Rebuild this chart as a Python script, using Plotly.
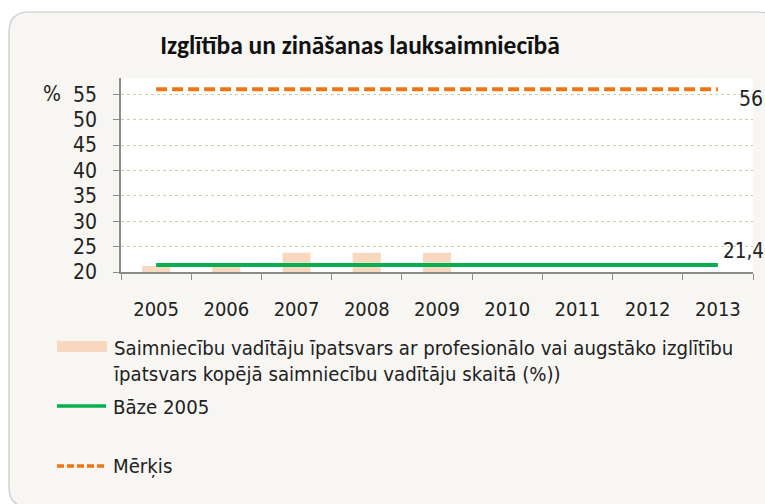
import plotly.graph_objects as go

years = ["2005", "2006", "2007", "2008", "2009", "2010", "2011", "2012", "2013"]
share_values = [21.2, 21.2, 23.8, 23.8, 23.8, None, None, None, None]
base_values = [21.4] * 9
target_values = [56] * 9
y_ticks = [20, 25, 30, 35, 40, 45, 50, 55]

title_text = "Izglītība un zināšanas lauksaimniecībā"
share_name = "Saimniecību vadītāju īpatsvars ar profesionālo vai augstāko izglītību<br>īpatsvars kopējā saimniecību vadītāju skaitā (%))"
base_name = "Bāze 2005"
target_name = "Mērķis"
base_label = "21,4"
target_label = "56"

W, H = 765, 504
ML, MT = 121, 78
MR = W - 753
MB = H - 272
PW, PH = W - ML - MR, H - MT - MB


def px(x):
    """page pixel x -> paper fraction"""
    return (x - ML) / PW


def py(y):
    """page pixel y -> paper fraction"""
    return (H - MB - y) / PH


NARROW = "DejaVu Sans Condensed, Liberation Sans, sans-serif"
BAR_C = "#f8d9bf"
GREEN = "#00b050"
ORANGE = "#f07414"
TXT = "#222"

fig = go.Figure()
fig.add_trace(go.Bar(x=years, y=share_values, base=0, marker_color=BAR_C,
                     marker_line_width=0, width=0.4, name=share_name, showlegend=False))
fig.add_trace(go.Scatter(x=years, y=base_values, mode="lines", name=base_name,
                         line=dict(color=GREEN, width=4), showlegend=False))
fig.add_trace(go.Scatter(x=years, y=target_values, mode="lines", name=target_name,
                         line=dict(color=ORANGE, width=4, dash="11px,5px"), showlegend=False))

# rounded background panel
x0, x1, y0, y1, r = 9, 778, 12, 507, 20
pts = [
    ("M", (x0 + r, y0)), ("L", (x1 - r, y0)), ("Q", (x1, y0), (x1, y0 + r)),
    ("L", (x1, y1 - r)), ("Q", (x1, y1), (x1 - r, y1)), ("L", (x0 + r, y1)),
    ("Q", (x0, y1), (x0, y1 - r)), ("L", (x0, y0 + r)), ("Q", (x0, y0), (x0 + r, y0)),
]
path = ""
for item in pts:
    cmd = item[0]
    coords = " ".join(f"{px(a):.5f},{py(b):.5f}" for a, b in item[1:])
    path += f"{cmd}{coords} "
path += "Z"

shapes = [
    dict(type="path", xref="paper", yref="paper", path=path, fillcolor="#f7f6f2",
         line=dict(color="#c8c8c8", width=1.2), layer="below"),
    dict(type="rect", xref="paper", yref="paper", x0=0, x1=1, y0=0, y1=1,
         fillcolor="white", line=dict(width=0), layer="below"),
    # legend swatches
    dict(type="rect", xref="paper", yref="paper", x0=px(57), x1=px(107), y0=py(341), y1=py(352),
         fillcolor=BAR_C, line=dict(width=0)),
    dict(type="line", xref="paper", yref="paper", x0=px(57), x1=px(106), y0=py(406), y1=py(406),
         line=dict(color=GREEN, width=3.5)),
    dict(type="line", xref="paper", yref="paper", x0=px(57), x1=px(106), y0=py(466), y1=py(466),
         line=dict(color=ORANGE, width=3.5, dash="7px,3px")),
]

last = len(years) - 1
annotations = [
    dict(text="%", xref="paper", yref="paper", x=px(52), y=py(94), xanchor="center",
         yanchor="middle", showarrow=False, font=dict(family=NARROW, size=21, color=TXT)),
    dict(text=target_label, x=last, y=target_values[-1], xref="x", yref="y",
         xanchor="left", yanchor="middle", xshift=19, yshift=-10, showarrow=False,
         font=dict(family=NARROW, size=21, color=TXT)),
    dict(text=base_label, x=last, y=base_values[-1], xref="x", yref="y",
         xanchor="left", yanchor="middle", xshift=3, yshift=14, showarrow=False,
         font=dict(family=NARROW, size=20.5, color=TXT)),
    dict(text=share_name, xref="paper", yref="paper", x=px(111), y=py(361), xanchor="left",
         yanchor="middle", align="left", showarrow=False,
         font=dict(family=NARROW, size=20.2, color=TXT)),
    dict(text=base_name, xref="paper", yref="paper", x=px(111), y=py(407), xanchor="left",
         yanchor="middle", showarrow=False, font=dict(family=NARROW, size=20.2, color=TXT)),
    dict(text=target_name, xref="paper", yref="paper", x=px(111), y=py(466), xanchor="left",
         yanchor="middle", showarrow=False, font=dict(family=NARROW, size=20.2, color=TXT)),
]

fig.update_layout(
    width=W, height=H,
    margin=dict(l=ML, r=MR, t=MT, b=MB),
    paper_bgcolor="white", plot_bgcolor="white",
    title=dict(text=title_text, x=360 / W, xanchor="center", y=1 - 45 / H,
               yanchor="middle",
               font=dict(family="Carlito, Lato, sans-serif", size=25.5, color="#111", weight=600)),
    shapes=shapes, annotations=annotations,
    showlegend=False, bargap=0.6,
)
fig.update_xaxes(type="category", tickson="boundaries", ticks="outside", ticklen=6,
                 tickcolor="#8c8c8c", showline=True, linecolor="#8c8c8c", linewidth=1.5,
                 showgrid=False, ticklabelstandoff=18, range=[-0.5, last + 0.5],
                 tickfont=dict(family=NARROW, size=20, color=TXT))
fig.update_yaxes(range=[20, 58.2], tickvals=y_ticks, ticks="outside", ticklen=6,
                 tickcolor="#8c8c8c", showline=True, linecolor="#8c8c8c", linewidth=1.5,
                 showgrid=True, gridcolor="#d2c9a6", griddash="dot", gridwidth=1,
                 zeroline=False, ticklabelstandoff=12,
                 tickfont=dict(family=NARROW, size=21, color=TXT))

fig.write_html(
    "out.html",
    config={"displayModeBar": False},
    post_script="document.body.style.margin='0';document.body.style.overflow='hidden';",
)
